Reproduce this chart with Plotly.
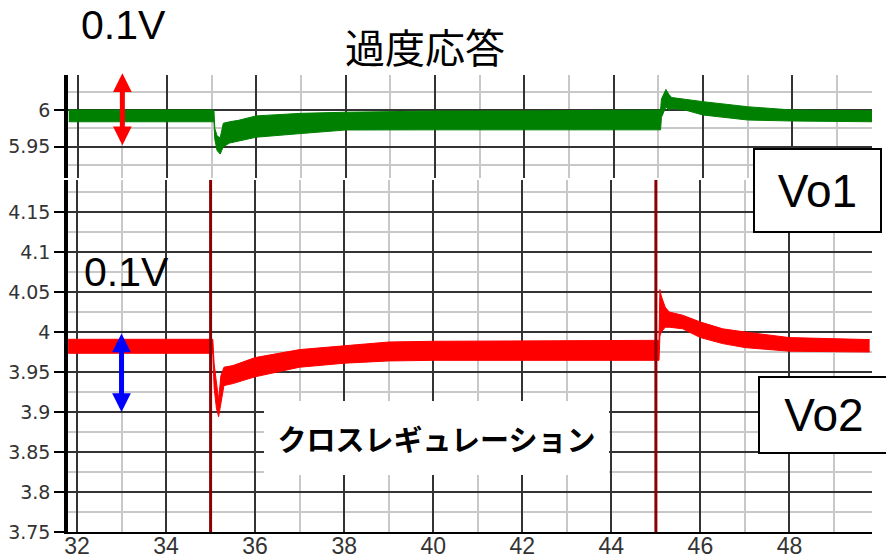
import plotly.graph_objects as go

# Time axis (ms) and load-step instants
step_times = [35, 45]
x_ticks = [32, 34, 36, 38, 40, 42, 44, 46, 48]

# Vo1 trace envelope (upper / lower edge of the ripple band), V
vo1_t = [31.8, 35.05, 35.07, 35.12, 35.19, 35.26, 35.4, 35.6, 36, 37, 38, 40, 42, 44,
         45.05, 45.07, 45.17, 45.24, 45.3, 45.6, 46, 47, 48, 49.8]
vo1_hi = [6.000, 6.000, 5.975, 5.965, 5.962, 5.982, 5.984, 5.986, 5.992, 5.9955, 5.997, 5.9986, 5.9988, 5.9995,
          6.000, 6.015, 6.028, 6.021, 6.017, 6.0146, 6.0114, 6.0045, 6.000, 5.999]
vo1_lo = [5.984, 5.984, 5.960, 5.945, 5.940, 5.950, 5.955, 5.958, 5.963, 5.968, 5.9728, 5.973, 5.973, 5.973,
          5.973, 5.990, 6.004, 6.000, 6.002, 6.000, 5.9932, 5.9864, 5.985, 5.984]

# Vo2 trace envelope, V
vo2_t = [31.8, 35.05, 35.08, 35.13, 35.18, 35.23, 35.3, 35.5, 36, 37, 38, 39, 40, 42, 44,
         45.07, 45.09, 45.12, 45.21, 45.3, 45.6, 46, 46.5, 47, 48, 49.8]
vo2_hi = [3.9909, 3.9909, 3.960, 3.935, 3.915, 3.945, 3.956, 3.958, 3.968, 3.978, 3.983, 3.9875, 3.9884, 3.989, 3.9896,
          3.9896, 4.053, 4.045, 4.031, 4.025, 4.021, 4.0125, 4.004, 4.000, 3.993, 3.9905]
vo2_lo = [3.9734, 3.9734, 3.930, 3.905, 3.894, 3.910, 3.933, 3.9355, 3.944, 3.956, 3.961, 3.9638, 3.9646, 3.9646, 3.9646,
          3.9646, 3.995, 4.000, 4.006, 4.006, 4.004, 3.993, 3.9855, 3.9805, 3.976, 3.975]

# Axis tick values and labels
vo1_ticks = [5.95, 6.0]
vo1_labels = ["5.95", "6"]
vo2_ticks = [3.75, 3.8, 3.85, 3.9, 3.95, 4.0, 4.05, 4.1, 4.15]
vo2_labels = ["3.75", "3.8", "3.85", "3.9", "3.95", "4", "4.05", "4.1", "4.15"]

GREEN = "#008000"
RED = "#ff0000"
BLUE = "#0000ff"
STEP = "#8b0000"
MAJOR = "#333333"
MINOR = "#c8c8c8"

fig = go.Figure()


def band(t, lo, hi, color, xa, ya):
    fig.add_trace(go.Scatter(x=t, y=lo, mode="lines", line=dict(color=color, width=1),
                             xaxis=xa, yaxis=ya, hoverinfo="skip"))
    fig.add_trace(go.Scatter(x=t, y=hi, mode="lines", line=dict(color=color, width=1),
                             fill="tonexty", fillcolor=color, xaxis=xa, yaxis=ya, hoverinfo="skip"))


band(vo1_t, vo1_lo, vo1_hi, GREEN, "x2", "y2")
band(vo2_t, vo2_lo, vo2_hi, RED, "x", "y")

# Load-step markers on the Vo2 panel
for t in step_times:
    fig.add_shape(type="line", x0=t, x1=t, xref="x", y0=0, y1=1, yref="y domain",
                  line=dict(color=STEP, width=3), layer="above")

ytick_font = dict(family="DejaVu Sans", size=19, color="#333333")
common_y = dict(ticks="outside", ticklen=10, tickcolor="black", tickwidth=1.5,
                showline=True, linecolor="black", linewidth=3.5, zeroline=False,
                showgrid=True, gridcolor=MAJOR, gridwidth=1.5, tickfont=ytick_font,
                tickmode="array", automargin=False)
common_x = dict(showgrid=True, gridcolor=MAJOR, gridwidth=2, zeroline=False, ticks="",
                ticklen=0, tickmode="array", tickvals=x_ticks,
                ticktext=[str(v) for v in x_ticks], automargin=False,
                minor=dict(tickmode="linear", tick0=31, dtick=1, showgrid=True,
                           gridcolor=MINOR, gridwidth=2, ticks=""))

fig.update_layout(
    width=886, height=560,
    margin=dict(l=68, r=14, t=75, b=28, autoexpand=False),
    paper_bgcolor="white", plot_bgcolor="white",
    showlegend=False,
    xaxis=dict(domain=[0, 1], anchor="y", range=[31.798, 49.853],
               showline=True, linecolor="black", linewidth=2, ticklabelstandoff=-8,
               tickfont=dict(family="Liberation Sans", size=23, color="#333333"),
               **common_x),
    yaxis=dict(domain=[0, 0.7702], anchor="x", range=[3.75, 4.19],
               tickvals=vo2_ticks, ticktext=vo2_labels,
               minor=dict(tickmode="linear", tick0=3.75, dtick=0.025, showgrid=True,
                          gridcolor=MINOR, gridwidth=2, ticks=""),
               **common_y),
    xaxis2=dict(domain=[0, 1], anchor="y2", range=[31.783, 49.784],
                showticklabels=False, showline=False, **common_x),
    yaxis2=dict(domain=[0.7746, 1], anchor="x2", range=[5.9074, 6.0477],
                tickvals=vo1_ticks, ticktext=vo1_labels,
                minor=dict(tickmode="linear", tick0=5.9, dtick=0.025, showgrid=True,
                           gridcolor=MINOR, gridwidth=2, ticks=""),
                **common_y),
)

# 0.1 V scale arrows
fig.add_annotation(x=33, y=5.952, xref="x2", yref="y2", ax=33, ay=6.052, axref="x2", ayref="y2",
                   text="", showarrow=True, arrowside="end+start", arrowhead=2, startarrowhead=2,
                   arrowsize=0.75, startarrowsize=0.75, arrowwidth=5, arrowcolor=RED,
                   standoff=0, startstandoff=0)
fig.add_annotation(x=33, y=3.9, xref="x", yref="y", ax=33, ay=4.0, axref="x", ayref="y",
                   text="", showarrow=True, arrowside="end+start", arrowhead=2, startarrowhead=2,
                   arrowsize=0.75, startarrowsize=0.75, arrowwidth=5, arrowcolor=BLUE,
                   standoff=0, startstandoff=0)


def px_x(px):
    return (px - 68) / 804


def px_y(py):
    return (532 - py) / 457


label_font = dict(family="Liberation Sans", size=41, color="black")
fig.add_annotation(text="0.1V", x=px_x(123), y=px_y(25), xref="paper", yref="paper",
                   showarrow=False, font=label_font, xanchor="center", yanchor="middle")
fig.add_annotation(text="0.1V", x=px_x(126), y=px_y(272), xref="paper", yref="paper",
                   showarrow=False, font=label_font, xanchor="center", yanchor="middle")

fig.add_annotation(text="過度応答", x=px_x(425), y=px_y(46), xref="paper", yref="paper",
                   showarrow=False, xanchor="center", yanchor="middle",
                   font=dict(family="Noto Sans CJK JP", size=40, color="black"))

box_font = dict(family="Liberation Sans", size=46, color="black")
fig.add_annotation(text="Vo1", x=px_x(817.5), y=px_y(190.5), xref="paper", yref="paper",
                   showarrow=False, xanchor="center", yanchor="middle", font=box_font,
                   width=125, height=81, bgcolor="white", bordercolor="black",
                   borderwidth=2, borderpad=0)
fig.add_annotation(text="Vo2", x=px_x(824), y=px_y(415), xref="paper", yref="paper",
                   showarrow=False, xanchor="center", yanchor="middle", font=box_font,
                   width=128, height=74, bgcolor="white", bordercolor="black",
                   borderwidth=2, borderpad=0)

fig.add_annotation(text="クロスレギュレーション", x=px_x(436.5), y=px_y(438), xref="paper", yref="paper",
                   showarrow=False, xanchor="center", yanchor="middle",
                   width=343, height=72, bgcolor="white", borderwidth=0,
                   font=dict(family="Noto Sans CJK JP", size=29, color="black", weight=700))

fig.write_html("out.html")
